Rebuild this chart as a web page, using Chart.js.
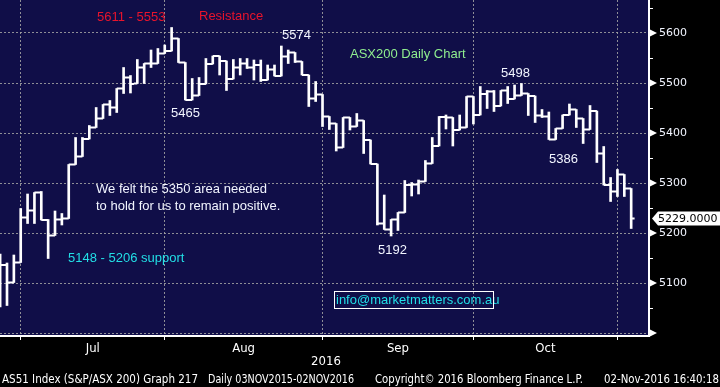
<!DOCTYPE html>
<html lang="en">
<head>
<meta charset="UTF-8" />
<title>ASX200 Daily Chart</title>
<script src="https://cdn.jsdelivr.net/npm/chart.js"></script>
<style>
  html, body { margin: 0; padding: 0; background: #000; }
</style>
</head>
<body>
<canvas id="asxChart" width="720" height="387"></canvas>
<script>
  // daily OHLC, 28-Jun-2016 .. 02-Nov-2016
  const opens = [5090, 5136, 5101, 5141, 5231, 5245, 5281, 5226, 5195, 5227,
    5229, 5337, 5353, 5388, 5411, 5429, 5457, 5451, 5489, 5511,
    5499, 5531, 5539, 5539, 5559, 5564, 5589, 5541, 5466, 5475,
    5498, 5538, 5554, 5544, 5508, 5531, 5539, 5531, 5536, 5506,
    5527, 5514, 5553, 5561, 5543, 5516, 5469, 5477, 5433, 5419,
    5371, 5431, 5413, 5425, 5386, 5338, 5219, 5207, 5227, 5241,
    5296, 5297, 5303, 5339, 5374, 5432, 5431, 5406, 5411, 5473,
    5436, 5478, 5483, 5454, 5485, 5468, 5475, 5479, 5474, 5435,
    5433, 5387, 5409, 5436, 5447, 5429, 5407, 5444, 5359, 5296,
    5283, 5317, 5289];
  const highs = [5158, 5140, 5156, 5249, 5278, 5281, 5283, 5227, 5244, 5239,
    5337, 5391, 5391, 5415, 5451, 5457, 5465, 5489, 5531, 5515,
    5547, 5539, 5566, 5569, 5576, 5611, 5589, 5541, 5509, 5511,
    5549, 5554, 5554, 5544, 5547, 5549, 5549, 5546, 5546, 5536,
    5536, 5574, 5566, 5561, 5543, 5516, 5503, 5477, 5433, 5419,
    5431, 5431, 5439, 5425, 5386, 5338, 5276, 5227, 5241, 5305,
    5301, 5306, 5345, 5391, 5433, 5436, 5431, 5436, 5473, 5473,
    5493, 5485, 5485, 5485, 5493, 5496, 5499, 5479, 5474, 5447,
    5442, 5409, 5436, 5458, 5447, 5429, 5455, 5444, 5373, 5311,
    5327, 5317, 5289];
  const lows = [5052, 5055, 5101, 5141, 5219, 5219, 5226, 5149, 5195, 5216,
    5229, 5337, 5353, 5388, 5411, 5429, 5435, 5441, 5479, 5480,
    5499, 5499, 5531, 5539, 5559, 5564, 5541, 5466, 5466, 5475,
    5498, 5538, 5516, 5485, 5508, 5516, 5529, 5506, 5503, 5506,
    5514, 5514, 5539, 5541, 5516, 5453, 5463, 5413, 5407, 5364,
    5371, 5406, 5413, 5359, 5338, 5216, 5207, 5194, 5205, 5241,
    5274, 5278, 5303, 5339, 5374, 5408, 5374, 5406, 5411, 5418,
    5436, 5449, 5443, 5454, 5459, 5468, 5475, 5435, 5421, 5431,
    5387, 5387, 5409, 5436, 5411, 5379, 5407, 5341, 5296, 5263,
    5273, 5273, 5209];
  const closes = [5136, 5101, 5141, 5231, 5245, 5281, 5226, 5195, 5227, 5229,
    5337, 5353, 5388, 5411, 5429, 5457, 5451, 5489, 5511, 5498,
    5531, 5539, 5539, 5559, 5564, 5589, 5541, 5466, 5475, 5498,
    5538, 5554, 5544, 5508, 5531, 5539, 5531, 5536, 5506, 5527,
    5514, 5553, 5561, 5543, 5516, 5469, 5477, 5433, 5419, 5371,
    5431, 5413, 5425, 5386, 5338, 5219, 5207, 5227, 5241, 5296,
    5297, 5303, 5339, 5374, 5432, 5431, 5406, 5411, 5473, 5436,
    5478, 5483, 5454, 5485, 5468, 5475, 5479, 5474, 5435, 5433,
    5387, 5409, 5436, 5447, 5429, 5407, 5444, 5359, 5296, 5283,
    5317, 5289, 5229];

  const monthStarts = [3, 24, 47, 69, 90];       // bar index of each month's first session
  const monthMids = [13.5, 35.5, 58, 79.5];
  const monthNames = ['Jul', 'Aug', 'Sep', 'Oct'];
  const yearLabel = '2016';
  const priceTicks = [5000, 5100, 5200, 5300, 5400, 5500, 5600];
  const minorTicks = [5050, 5150, 5250, 5350, 5450, 5550, 5650];
  const lastPrice = 5229;

  const NAVY = '#100e48';
  const GRID = 'rgba(165,165,165,0.85)';
  const WHITE = '#f2f5ff';
  const RED = '#e8142c';
  const GREEN = '#8fee8f';
  const CYAN = '#22dfe6';

  const notes = [
    { text: '5611 - 5553', x: 97, y: 17, color: RED },
    { text: 'Resistance', x: 199, y: 16, color: RED },
    { text: '5574', x: 282, y: 35, color: WHITE },
    { text: 'ASX200 Daily Chart', x: 350, y: 54, color: GREEN },
    { text: '5498', x: 501, y: 73, color: WHITE },
    { text: '5465', x: 171, y: 113, color: WHITE },
    { text: '5386', x: 549, y: 159, color: WHITE },
    { text: 'We felt the 5350 area needed', x: 96, y: 189, color: WHITE },
    { text: 'to hold for us to remain positive.', x: 96, y: 206, color: WHITE },
    { text: '5192', x: 378, y: 250, color: WHITE },
    { text: '5148 - 5206 support', x: 68, y: 258, color: CYAN },
    { text: 'info@marketmatters.com.au', x: 336, y: 300, color: CYAN }
  ];

  const footer = [
    { text: 'AS51 Index (S&P/ASX 200) Graph 217', x: 2, w: 196 },
    { text: 'Daily 03NOV2015-02NOV2016', x: 208, w: 146 },
    { text: 'Copyright\u00A9 2016 Bloomberg Finance L.P.', x: 375, w: 208 },
    { text: '02-Nov-2016 16:40:18', x: 604, w: 115 }
  ];

  const NARROW = '"DejaVu Sans Condensed", "Liberation Sans Narrow", "DejaVu Sans", sans-serif';

  // drop the label overhang Chart.js reserves, so the plot fills the frame
  function noPad(s) {
    s.paddingTop = 0; s.paddingBottom = 0; s.paddingLeft = 0; s.paddingRight = 0;
  }

  const bloomberg = {
    id: 'bloomberg',
    beforeDraw(chart) {
      const { ctx, chartArea: a } = chart;
      ctx.save();
      ctx.fillStyle = NAVY;
      ctx.fillRect(a.left, a.top, a.right - a.left, a.bottom - a.top);
      ctx.restore();
    },
    afterDatasetsDraw(chart) {
      // open tick on the left, close tick on the right
      const { ctx, scales: { x, y } } = chart;
      const half = (x.getPixelForValue(1) - x.getPixelForValue(0)) / 2;
      ctx.save();
      ctx.strokeStyle = '#fff';
      ctx.lineWidth = 2;
      ctx.beginPath();
      closes.forEach((c, i) => {
        const px = x.getPixelForValue(i);
        const yo = y.getPixelForValue(opens[i]);
        const yc = y.getPixelForValue(c);
        ctx.moveTo(px - half, yo); ctx.lineTo(px, yo);
        ctx.moveTo(px, yc); ctx.lineTo(px + half, yc);
      });
      ctx.stroke();
      ctx.restore();
    },
    afterDraw(chart) {
      const { ctx, chartArea: a, scales: { y } } = chart;
      ctx.save();

      // arrows on the price axis + minor ticks
      ctx.fillStyle = '#fff';
      priceTicks.forEach(v => {
        const py = y.getPixelForValue(v);
        ctx.beginPath();
        ctx.moveTo(a.right + 1, py - 3.5);
        ctx.lineTo(a.right + 8, py);
        ctx.lineTo(a.right + 1, py + 3.5);
        ctx.closePath();
        ctx.fill();
      });
      ctx.strokeStyle = '#fff';
      ctx.lineWidth = 1;
      minorTicks.forEach(v => {
        const py = Math.round(y.getPixelForValue(v)) + 0.5;
        ctx.beginPath();
        ctx.moveTo(a.right, py);
        ctx.lineTo(a.right + 4, py);
        ctx.stroke();
      });

      // last price marker
      const ly = y.getPixelForValue(lastPrice);
      ctx.fillStyle = '#fff';
      ctx.beginPath();
      ctx.moveTo(a.right + 3, ly);
      ctx.lineTo(a.right + 9, ly - 7);
      ctx.lineTo(720, ly - 7);
      ctx.lineTo(720, ly + 7);
      ctx.lineTo(a.right + 9, ly + 7);
      ctx.closePath();
      ctx.fill();
      ctx.fillStyle = '#000';
      ctx.font = '11px "DejaVu Sans"';
      ctx.textBaseline = 'middle';
      ctx.textAlign = 'left';
      ctx.fillText(lastPrice.toFixed(4), a.right + 9, ly + 0.5);

      // chart notes
      ctx.font = '13px "Liberation Sans", Arial, sans-serif';
      notes.forEach(n => {
        ctx.fillStyle = n.color;
        ctx.fillText(n.text, n.x, n.y);
      });
      ctx.strokeStyle = '#fff';
      ctx.lineWidth = 1;
      ctx.strokeRect(334.5, 291.5, 159, 17);

      // year + footer
      ctx.fillStyle = '#fff';
      ctx.font = '13px ' + NARROW;
      ctx.textAlign = 'center';
      ctx.fillText(yearLabel, 326, 362);
      ctx.textAlign = 'left';
      ctx.font = '12px ' + NARROW;
      footer.forEach(f => ctx.fillText(f.text, f.x, 380, f.w));
      ctx.restore();
    }
  };

  const ctx = document.getElementById('asxChart').getContext('2d');
  new Chart(ctx, {
    type: 'bar',
    data: {
      datasets: [{
        data: highs.map((h, i) => ({ x: i, y: [lows[i], h] })),
        backgroundColor: '#fff',
        borderWidth: 0,
        barThickness: 2
      }]
    },
    options: {
      responsive: false,
      animation: false,
      devicePixelRatio: 1,
      layout: { padding: 0 },
      plugins: { legend: { display: false }, tooltip: { enabled: false } },
      scales: {
        x: {
          type: 'linear', min: -0.02, max: 94.6, offset: false, weight: 0,
          afterBuildTicks: s => { s.ticks = monthStarts.map(v => ({ value: v })); },
          afterFit: s => { s.height = 4; noPad(s); },
          ticks: { display: false },
          grid: { offset: false, color: GRID, lineWidth: 1, drawTicks: true, tickLength: 4, tickColor: '#fff', tickWidth: 1 },
          border: { color: '#fff', width: 2, dash: [2, 2] }
        },
        xm: {
          type: 'linear', position: 'bottom', min: -0.02, max: 94.6, offset: false, weight: 1,
          afterBuildTicks: s => { s.ticks = monthMids.map(v => ({ value: v })); },
          afterFit: s => { s.height = 47; noPad(s); },
          ticks: {
            color: '#fff', padding: 1, maxRotation: 0, autoSkip: false,
            font: { family: NARROW, size: 13 },
            callback: (v, i) => monthNames[i]
          },
          grid: { display: false, drawTicks: false },
          border: { display: false }
        },
        y: {
          position: 'right', min: 4994, max: 5666,
          afterBuildTicks: s => { s.ticks = priceTicks.map(v => ({ value: v })); },
          afterFit: s => { s.width = 71; noPad(s); },
          ticks: {
            color: WHITE, padding: 10,
            font: { family: '"DejaVu Sans"', size: 11 },
            callback: v => (v === 5000 ? '' : String(v))
          },
          grid: { color: GRID, lineWidth: 1, drawTicks: false },
          border: { color: '#fff', width: 2, dash: [2, 2] }
        }
      }
    },
    plugins: [bloomberg]
  });
</script>
</body>
</html>
